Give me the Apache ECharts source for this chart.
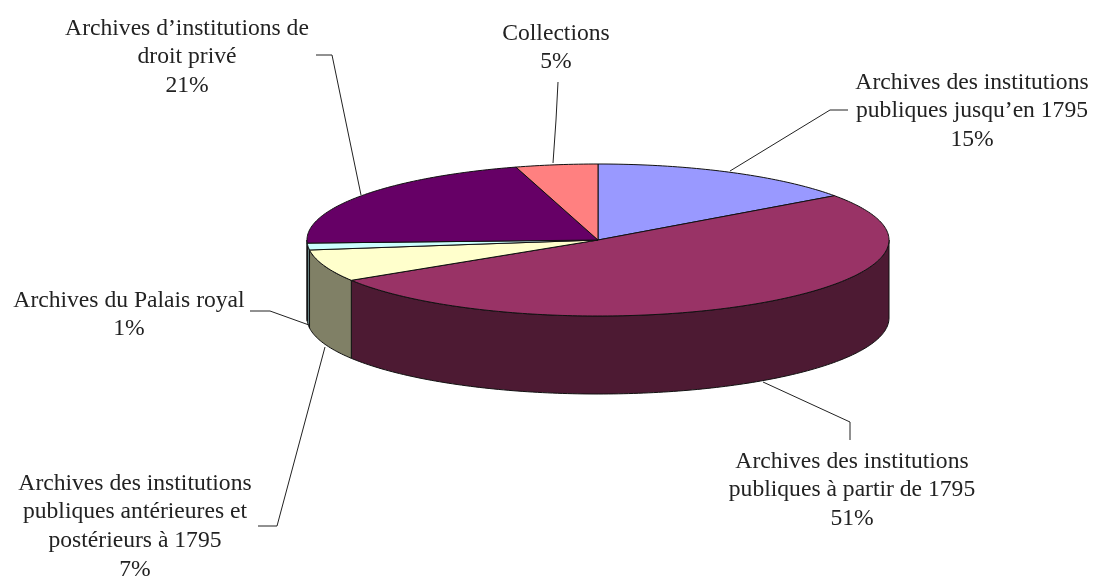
<!DOCTYPE html>
<html>
<head>
<meta charset="utf-8">
<style>html,body{margin:0;padding:0;background:#fff}#c{width:1094px;height:578px}</style>
<script src="https://cdn.jsdelivr.net/npm/echarts@6/dist/echarts.min.js"></script>
</head>
<body>
<div id="c"></div>
<script>
// Data
const categories = [
  "Archives des institutions\npubliques jusqu\u2019en 1795",
  "Archives des institutions\npubliques \u00e0 partir de 1795",
  "Archives des institutions\npubliques ant\u00e9rieures et\npost\u00e9rieurs \u00e0 1795",
  "Archives du Palais royal",
  "Archives d\u2019institutions de\ndroit priv\u00e9",
  "Collections"
];
const shares = [15.1, 51.0, 6.8, 1.45, 21.1, 4.55];
const percentLabels = ["15%", "51%", "7%", "1%", "21%", "5%"];

// Styles
const topColors = ["#9999FF", "#993366", "#FFFFCC", "#CCFFFF", "#660066", "#FF8080"];
const sideColors = ["#4D4D80", "#4D1A33", "#808066", "#668080", "#330033", "#804040"];

// Layout
const CX = 598, CY = 240, RX = 291, RY = 76, DEPTH = 78;
const labelAnchors = [[972, 68], [852, 447], [135, 469], [129, 286], [187, 14], [556, 19]];
const leaders = [
  [[730, 171], [830, 110], [848, 110]],
  [[763, 382], [850, 422], [850, 440]],
  [[325, 347], [277, 526], [258, 526]],
  [[309, 325], [270, 311], [250, 311]],
  [[361, 195], [332, 55], [316, 55]],
  [[553, 163], [556, 120], [558, 82]]
];

const total = shares.reduce((a, b) => a + b, 0);
function ptOn(deg, dy) {
  const r = deg * Math.PI / 180;
  return [CX + RX * Math.sin(r), CY - RY * Math.cos(r) + (dy || 0)];
}
function arc(a, b, dy) {
  const pts = [];
  const n = Math.max(2, Math.ceil(Math.abs(b - a)));
  for (let i = 0; i <= n; i++) pts.push(ptOn(a + (b - a) * i / n, dy));
  return pts;
}
function renderItem(params, api) {
  const i = params.dataIndex;
  let before = 0;
  for (let k = 0; k < i; k++) before += shares[k];
  const a0 = before / total * 360;
  const a1 = a0 + api.value(0) / total * 360;
  const children = [];
  const w0 = Math.max(a0, 90), w1 = Math.min(a1, 270);
  if (w1 > w0) {
    children.push({
      type: 'polygon', z2: 1,
      shape: { points: arc(w0, w1, 0).concat(arc(w1, w0, DEPTH)) },
      style: { fill: sideColors[i], stroke: '#111', lineWidth: 1 }
    });
  }
  children.push({
    type: 'polygon', z2: 2,
    shape: { points: [[CX, CY]].concat(arc(a0, a1, 0)) },
    style: { fill: topColors[i], stroke: '#111', lineWidth: 1, lineJoin: 'round' }
  });
  children.push({
    type: 'polyline', z2: 3,
    shape: { points: leaders[i] },
    style: { fill: null, stroke: '#222', lineWidth: 1 }
  });
  children.push({
    type: 'text', z2: 4,
    x: labelAnchors[i][0], y: labelAnchors[i][1],
    style: {
      text: categories[i] + "\n" + percentLabels[i],
      fill: '#222',
      font: '23.6px "Liberation Serif", serif',
      lineHeight: 28.8,
      align: 'center',
      verticalAlign: 'top'
    }
  });
  return { type: 'group', children };
}

const chart = echarts.init(document.getElementById('c'), null, { renderer: 'canvas' });
chart.setOption({
  backgroundColor: '#ffffff',
  animation: false,
  series: [{
    type: 'custom',
    coordinateSystem: 'none',
    renderItem,
    clip: false,
    silent: true,
    data: shares.map((v, i) => ({ name: categories[i], value: [v] }))
  }]
});
</script>
</body>
</html>
